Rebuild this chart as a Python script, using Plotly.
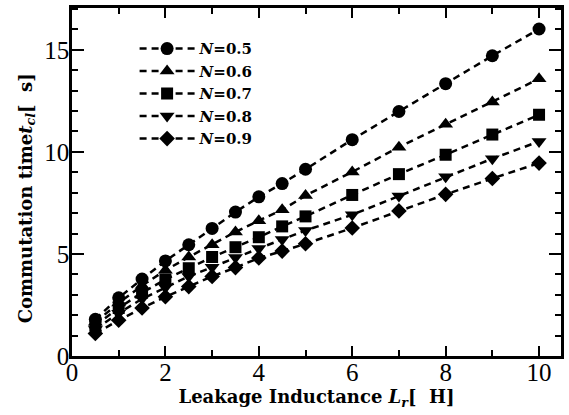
import plotly.graph_objects as go

# Leakage inductance L_r (uH) and commutation time t_cl (us) for each N
inductance = [0.5, 1, 1.5, 2, 2.5, 3, 3.5, 4, 4.5, 5, 6, 7, 8, 9, 10]
n_labels = ["0.5", "0.6", "0.7", "0.8", "0.9"]
t_n05 = [1.80, 2.85, 3.77, 4.66, 5.45, 6.25, 7.05, 7.80, 8.45, 9.15, 10.60, 11.98, 13.34, 14.71, 16.02]
t_n06 = [1.65, 2.60, 3.45, 4.20, 4.85, 5.45, 6.08, 6.63, 7.16, 7.86, 9.02, 10.23, 11.36, 12.45, 13.58]
t_n07 = [1.50, 2.35, 3.10, 3.75, 4.30, 4.85, 5.33, 5.82, 6.35, 6.84, 7.89, 8.91, 9.86, 10.85, 11.82]
t_n08 = [1.30, 2.10, 2.80, 3.35, 3.90, 4.35, 4.82, 5.27, 5.71, 6.15, 6.92, 7.84, 8.78, 9.67, 10.51]
t_n09 = [1.10, 1.75, 2.35, 2.90, 3.40, 3.90, 4.33, 4.80, 5.14, 5.50, 6.27, 7.11, 7.92, 8.70, 9.45]

series = [t_n05, t_n06, t_n07, t_n08, t_n09]
symbols = ["circle", "triangle-up", "square", "triangle-down", "diamond"]
sizes = [13, 13, 12, 13, 12]

NUM_FONT = "Liberation Serif"
TXT_FONT = "DejaVu Serif"

fig = go.Figure()
for lab, ys, sym, sz in zip(n_labels, series, symbols, sizes):
    fig.add_trace(go.Scatter(
        x=inductance, y=ys, mode="lines+markers",
        name=f"<b><i>N</i>=" + lab + "</b>",
        line=dict(color="black", width=2.5, dash="7px,5px"),
        marker=dict(symbol=sym, size=sz, color="black"),
    ))

axis_common = dict(
    showline=True, linecolor="black", linewidth=2.5, mirror="allticks",
    ticks="inside", tickcolor="black", tickwidth=2,
    showgrid=False, zeroline=False,
    tickfont=dict(family=NUM_FONT, size=25, color="black"),
)

fig.update_xaxes(
    range=[0, 10.47], dtick=2, tick0=0, ticklen=10, ticklabelstandoff=-8,
    minor=dict(dtick=1, ticklen=6, ticks="inside", tickcolor="black", tickwidth=2),
    title=dict(text="<b>Leakage Inductance <i>L<sub>r</sub></i>[\u00a0\u00a0H]</b>",
               font=dict(family=TXT_FONT, size=18, color="black"), standoff=0),
    **axis_common,
)
fig.update_yaxes(
    range=[0, 17.05], dtick=5, tick0=0, ticklen=12, ticklabelstandoff=-5,
    minor=dict(dtick=1, ticklen=6, ticks="inside", tickcolor="black", tickwidth=2),
    **axis_common,
)

# y-axis title, placed a little below the plot's vertical centre
fig.add_annotation(
    text="<b>Commutation time<i>t<sub>cl</sub></i>[\u00a0\u00a0s]</b>",
    xref="paper", yref="paper", x=-0.092, y=0.453,
    xanchor="center", yanchor="middle", textangle=-90, showarrow=False,
    font=dict(family=TXT_FONT, size=18, color="black"),
)

fig.update_layout(
    width=569, height=415,
    margin=dict(l=72, r=7, t=5, b=59),
    paper_bgcolor="white", plot_bgcolor="white",
    legend=dict(x=0.128, y=0.93, xanchor="left", yanchor="top",
                bgcolor="rgba(0,0,0,0)", font=dict(family=TXT_FONT, size=15, color="black"),
                itemwidth=55, tracegroupgap=0),
)

fig.write_html("out.html")
